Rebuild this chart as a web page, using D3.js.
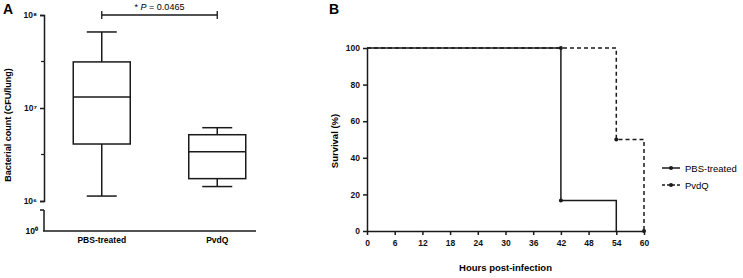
<!DOCTYPE html>
<html>
<head>
<meta charset="utf-8">
<script src="https://cdn.jsdelivr.net/npm/d3@7"></script>
<style>
  body { margin: 0; background: #fff; }
  svg { font-family: "Liberation Sans", Arial, sans-serif; }
  .tick text { font-weight: bold; font-size: 8.5px; fill: #111; }
</style>
</head>
<body>
<div id="chart-area"></div>
<script>
// panel A data (box plot, CFU/lung)
var groups = ["PBS-treated", "PvdQ"];
var whiskLow = [1.13e6, 1.43e6];
var q1 = [4.1e6, 1.74e6];
var median = [1.31e7, 3.39e6];
var q3 = [3.13e7, 5.16e6];
var whiskHigh = [6.57e7, 6.14e6];
var pLabel = "0.0465";

// panel B data (survival curves)
var hourTicks = [0, 6, 12, 18, 24, 30, 36, 42, 48, 54, 60];
var survTicks = [0, 20, 40, 60, 80, 100];
var pbsTime = [0, 42, 54];
var pbsSurv = [100, 16.67, 0];
var pvdqTime = [0, 54, 60];
var pvdqSurv = [100, 50, 0];
var pbsMarkTime = [42, 42];
var pbsMarkSurv = [100, 16.67];
var pvdqMarkTime = [54, 60];
var pvdqMarkSurv = [50, 0];

var W = 743, H = 278, ink = "#1a1a1a";

var svg = d3.select("#chart-area")
    .append("svg")
        .attr("width", W)
        .attr("height", H);

// ---------- panel A ----------
var gA = svg.append("g");

var yA = d3.scaleLog()
    .domain([1e6, 1e8])
    .range([201, 15]);
var yZero = 231;

var xA = d3.scalePoint()
    .domain(groups)
    .range([44, 275])
    .padding(0.5);

var supMap = { "0": "\u2070", "6": "\u2076", "7": "\u2077", "8": "\u2078" };

var yAxisA = d3.axisLeft(yA)
    .tickValues([1e6, 1e7, 1e8])
    .tickSize(4)
    .tickFormat(d => "10" + supMap[Math.round(Math.log10(d))]);
gA.append("g")
    .attr("transform", "translate(44,0)")
    .call(yAxisA)
    .call(g => g.selectAll("path,line").attr("stroke", ink).attr("stroke-width", 1.5));

// minor ticks at half decades
gA.selectAll(".minor")
    .data([Math.pow(10, 6.5), Math.pow(10, 7.5)])
    .enter().append("line")
        .attr("x1", 41).attr("x2", 44)
        .attr("y1", d => yA(d)).attr("y2", d => yA(d))
        .attr("stroke", ink).attr("stroke-width", 1.2);

// broken lower segment down to 10^0
gA.append("line")
    .attr("x1", 44).attr("x2", 44)
    .attr("y1", 210).attr("y2", yZero)
    .attr("stroke", ink).attr("stroke-width", 1.5);
gA.append("line")
    .attr("x1", 40).attr("x2", 44)
    .attr("y1", 210).attr("y2", 210)
    .attr("stroke", ink).attr("stroke-width", 1.5);
gA.append("text")
    .attr("x", 38).attr("y", yZero + 3)
    .attr("text-anchor", "end")
    .attr("font-size", "8.5px").attr("font-weight", "bold")
    .text("10\u2070");

// x axis
gA.append("line")
    .attr("x1", 43).attr("x2", 256)
    .attr("y1", yZero).attr("y2", yZero)
    .attr("stroke", ink).attr("stroke-width", 1.5);
gA.selectAll(".xlab")
    .data(groups)
    .enter().append("text")
        .attr("x", d => xA(d))
        .attr("y", 243)
        .attr("text-anchor", "middle")
        .attr("font-size", "8.5px").attr("font-weight", "bold")
        .text(d => d);

gA.append("text")
    .attr("transform", "translate(11,125) rotate(-90)")
    .attr("text-anchor", "middle")
    .attr("font-size", "9px").attr("font-weight", "bold")
    .text("Bacterial count (CFU/lung)");

// boxes
var boxW = 57, capW = 30;
var boxes = gA.selectAll(".box")
    .data(groups)
    .enter().append("g")
        .attr("fill", "none")
        .attr("stroke", ink)
        .attr("stroke-width", 1.5);

boxes.append("line")
    .attr("x1", d => xA(d)).attr("x2", d => xA(d))
    .attr("y1", (d, i) => yA(whiskHigh[i])).attr("y2", (d, i) => yA(q3[i]));
boxes.append("line")
    .attr("x1", d => xA(d)).attr("x2", d => xA(d))
    .attr("y1", (d, i) => yA(q1[i])).attr("y2", (d, i) => yA(whiskLow[i]));
boxes.append("line")
    .attr("x1", d => xA(d) - capW / 2).attr("x2", d => xA(d) + capW / 2)
    .attr("y1", (d, i) => yA(whiskHigh[i])).attr("y2", (d, i) => yA(whiskHigh[i]));
boxes.append("line")
    .attr("x1", d => xA(d) - capW / 2).attr("x2", d => xA(d) + capW / 2)
    .attr("y1", (d, i) => yA(whiskLow[i])).attr("y2", (d, i) => yA(whiskLow[i]));
boxes.append("rect")
    .attr("x", d => xA(d) - boxW / 2)
    .attr("width", boxW)
    .attr("y", (d, i) => yA(q3[i]))
    .attr("height", (d, i) => yA(q1[i]) - yA(q3[i]));
boxes.append("line")
    .attr("x1", d => xA(d) - boxW / 2).attr("x2", d => xA(d) + boxW / 2)
    .attr("y1", (d, i) => yA(median[i])).attr("y2", (d, i) => yA(median[i]));

// significance bracket
var brY = 15;
var br = gA.append("g").attr("stroke", ink).attr("stroke-width", 1.3);
br.append("line").attr("x1", xA(groups[0])).attr("x2", xA(groups[1])).attr("y1", brY).attr("y2", brY);
br.append("line").attr("x1", xA(groups[0])).attr("x2", xA(groups[0])).attr("y1", brY - 4).attr("y2", brY + 4);
br.append("line").attr("x1", xA(groups[1])).attr("x2", xA(groups[1])).attr("y1", brY - 4).attr("y2", brY + 4);
var pt = gA.append("text")
    .attr("x", (xA(groups[0]) + xA(groups[1])) / 2)
    .attr("y", 10)
    .attr("text-anchor", "middle")
    .attr("font-size", "9px");
pt.append("tspan").text("* ");
pt.append("tspan").attr("font-style", "italic").text("P");
pt.append("tspan").text(" = " + pLabel);

svg.append("text").attr("x", 3).attr("y", 14)
    .attr("font-size", "14px").attr("font-weight", "bold").text("A");

// ---------- panel B ----------
var gB = svg.append("g");

var xB = d3.scaleLinear().domain([0, 60]).range([367, 644]);
var yB = d3.scaleLinear().domain([0, 100]).range([231, 48]);

gB.append("g")
    .attr("transform", "translate(0," + yB(0) + ")")
    .call(d3.axisBottom(xB).tickValues(hourTicks).tickSize(4).tickSizeOuter(0))
    .call(g => g.selectAll("path,line").attr("stroke", ink).attr("stroke-width", 1.5))
    .call(g => g.selectAll("text").attr("dy", "0.95em"));

gB.append("g")
    .attr("transform", "translate(" + xB(0) + ",0)")
    .call(d3.axisLeft(yB).tickValues(survTicks).tickSize(4).tickSizeOuter(0))
    .call(g => g.selectAll("path,line").attr("stroke", ink).attr("stroke-width", 1.5));

gB.append("text")
    .attr("transform", "translate(338,141) rotate(-90)")
    .attr("text-anchor", "middle")
    .attr("font-size", "9.5px").attr("font-weight", "bold")
    .text("Survival (%)");

gB.append("text")
    .attr("x", (xB(0) + xB(60)) / 2)
    .attr("y", 271)
    .attr("text-anchor", "middle")
    .attr("font-size", "9.5px").attr("font-weight", "bold")
    .text("Hours post-infection");

var step = d3.line()
    .x(d => xB(d[0]))
    .y(d => yB(d[1]))
    .curve(d3.curveStepAfter);

gB.append("path")
    .datum(pvdqTime.map((t, i) => [t, pvdqSurv[i]]))
    .attr("d", step)
    .attr("fill", "none").attr("stroke", ink)
    .attr("stroke-width", 1.5).attr("stroke-dasharray", "4,3");

gB.append("path")
    .datum(pbsTime.map((t, i) => [t, pbsSurv[i]]))
    .attr("d", step)
    .attr("fill", "none").attr("stroke", ink)
    .attr("stroke-width", 1.5);

gB.selectAll(".mk1")
    .data(pbsMarkTime.map((t, i) => [t, pbsMarkSurv[i]]))
    .enter().append("circle")
        .attr("cx", d => xB(d[0])).attr("cy", d => yB(d[1]))
        .attr("r", 2).attr("fill", ink);
gB.selectAll(".mk2")
    .data(pvdqMarkTime.map((t, i) => [t, pvdqMarkSurv[i]]))
    .enter().append("circle")
        .attr("cx", d => xB(d[0])).attr("cy", d => yB(d[1]))
        .attr("r", 2).attr("fill", ink);

// legend
var legend = gB.selectAll(".leg")
    .data(["PBS-treated", "PvdQ"])
    .enter().append("g")
        .attr("transform", (d, i) => "translate(662," + (168 + i * 17) + ")");
legend.append("line")
    .attr("x1", 0).attr("x2", 18).attr("y1", 0).attr("y2", 0)
    .attr("stroke", ink).attr("stroke-width", 1.5)
    .attr("stroke-dasharray", (d, i) => i === 1 ? "3,2" : null);
legend.append("circle")
    .attr("cx", 9).attr("cy", 0).attr("r", 2).attr("fill", ink);
legend.append("text")
    .attr("x", 23).attr("y", 3.5)
    .attr("font-size", "9.5px")
    .text(d => d);

svg.append("text").attr("x", 329).attr("y", 14)
    .attr("font-size", "14px").attr("font-weight", "bold").text("B");
</script>
</body>
</html>
